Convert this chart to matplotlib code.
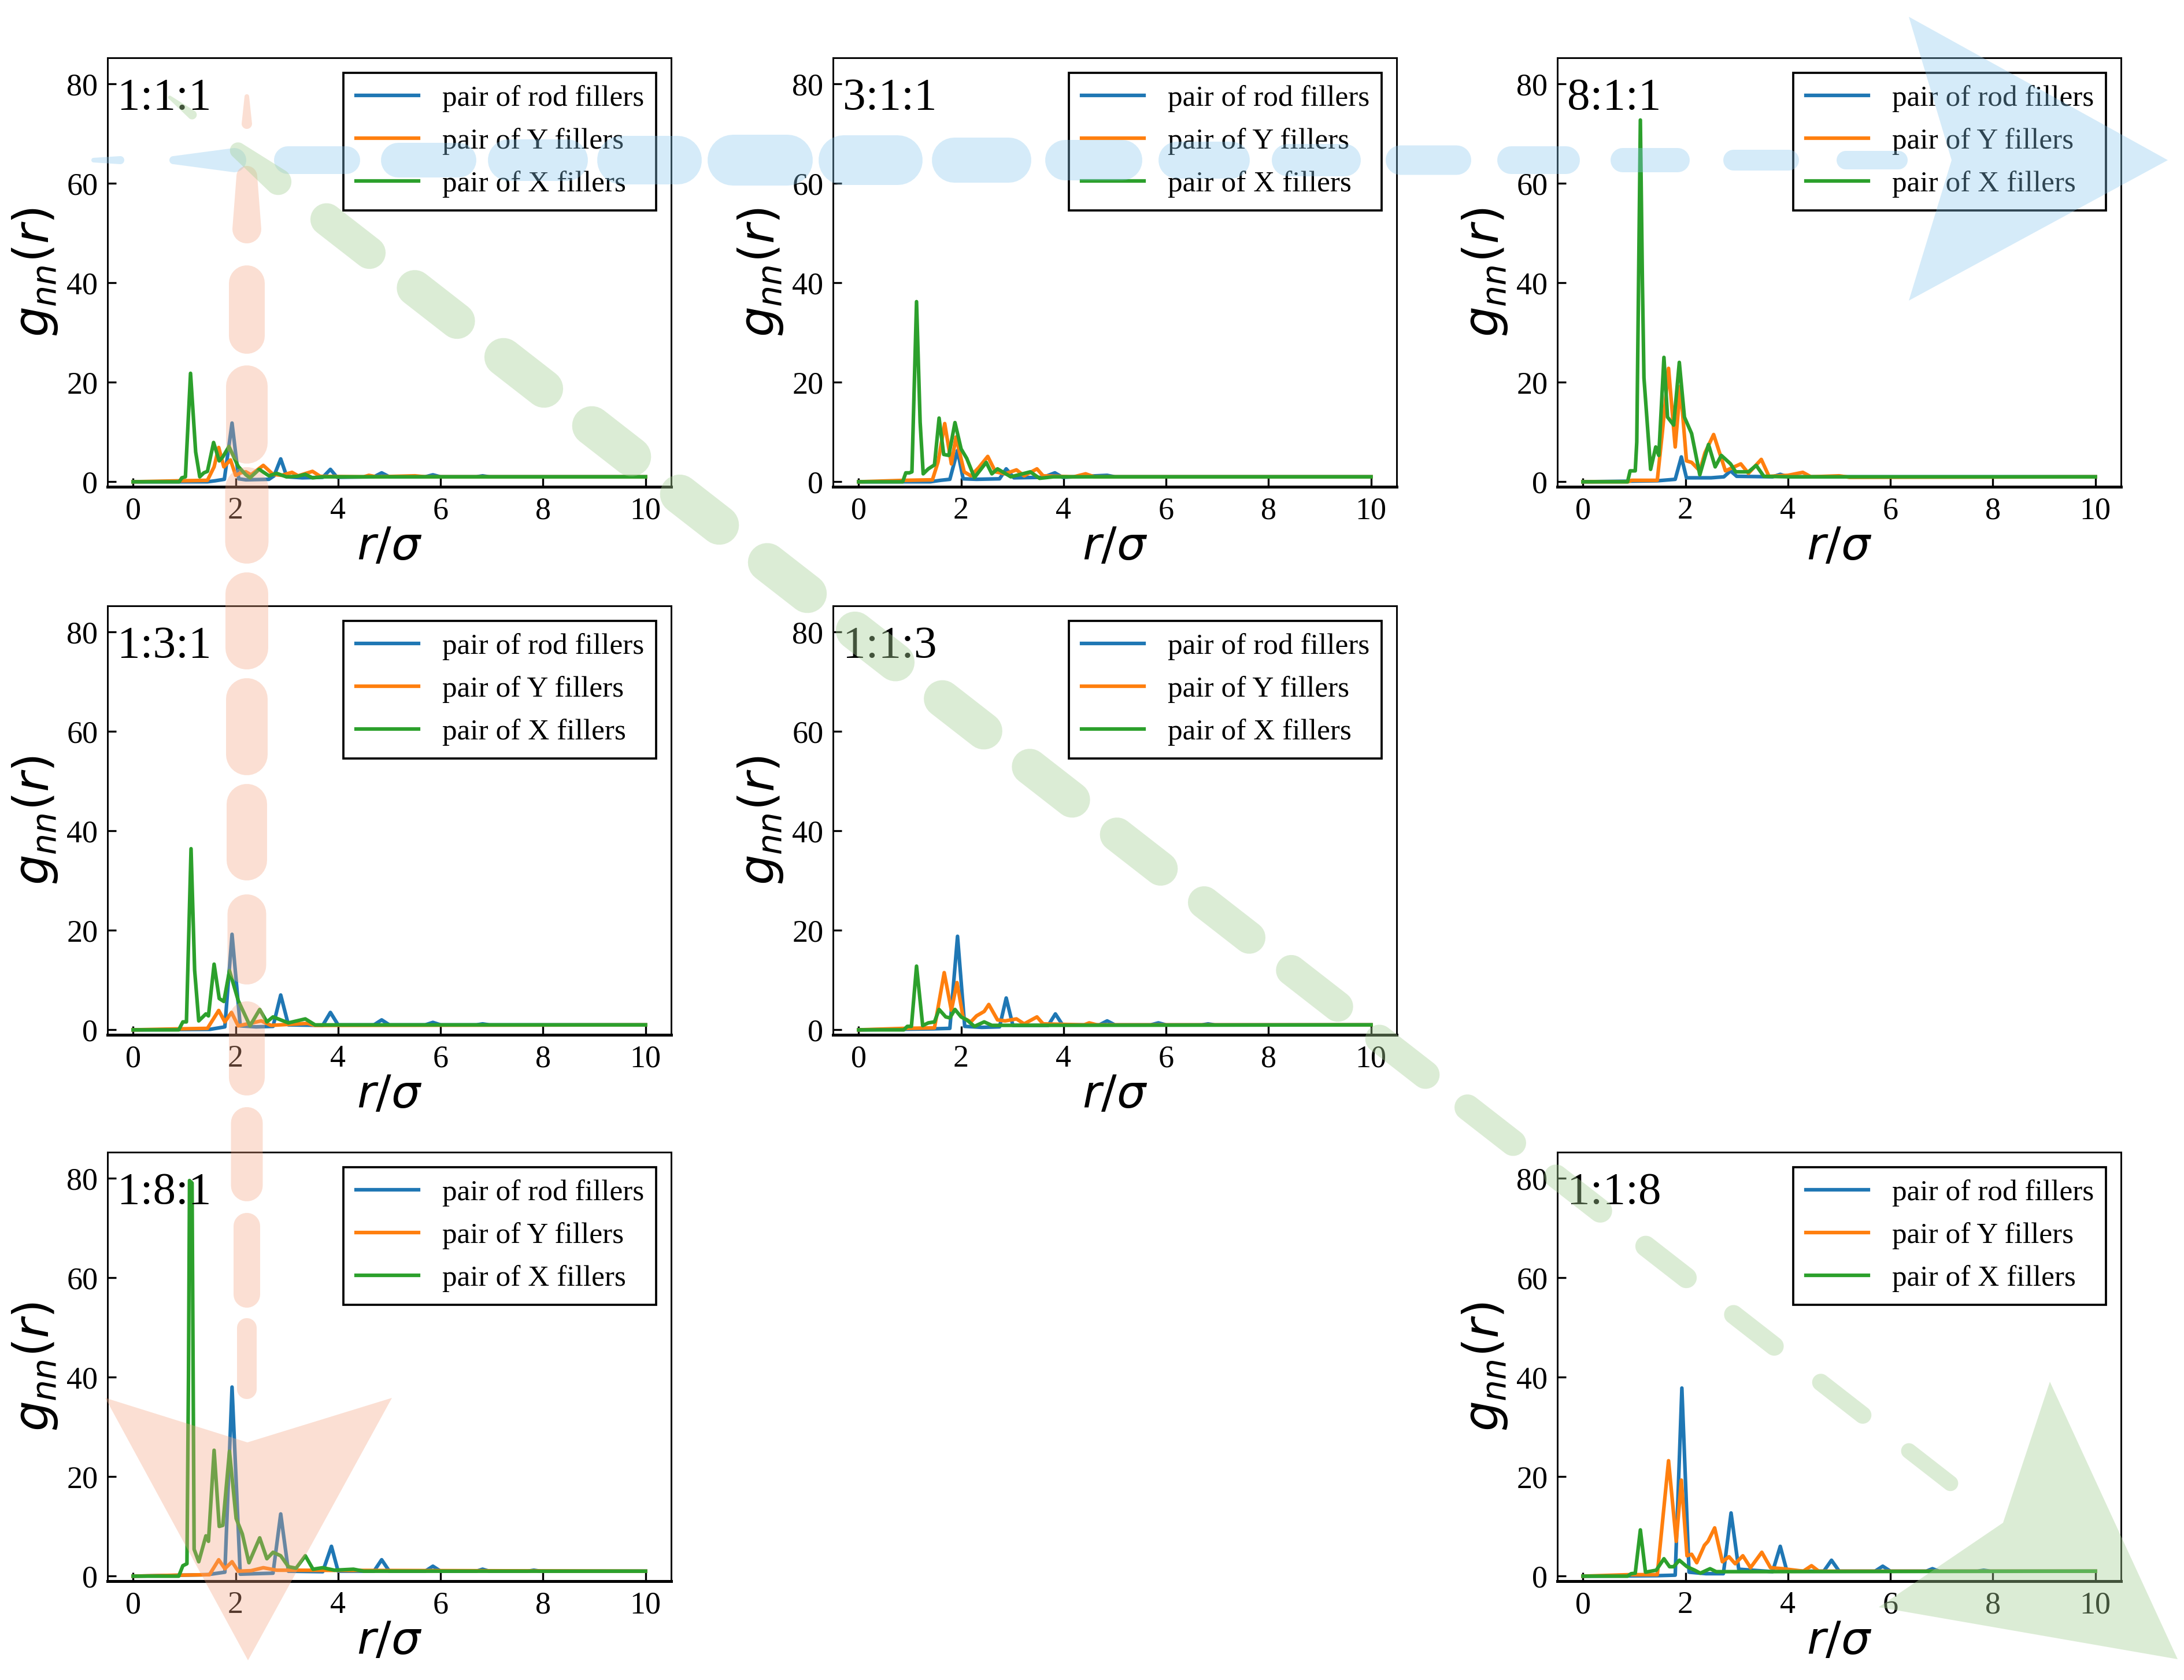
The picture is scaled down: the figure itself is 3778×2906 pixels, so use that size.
import numpy as np
import matplotlib
matplotlib.use('Agg')
import matplotlib.pyplot as plt
from matplotlib.patches import Polygon

W, H = 3779, 2906      # output size in pixels
DPI = 300

params = {'font.family': 'serif',
          'font.serif': ['Liberation Serif', 'DejaVu Serif'],
          'mathtext.fontset': 'dejavusans',
          'axes.linewidth': 0.7,
          'xtick.labelsize': 13,
          'ytick.labelsize': 13,
          'legend.fontsize': 12.3,
          }
plt.rcParams.update(params)

#################### DATA ####################################################

series_labels = ['pair of rod fillers', 'pair of Y fillers', 'pair of X fillers']
series_colors = ['#1f77b4', '#ff7f0e', '#2ca02c']

# 1:1:1
rod_111 = [(0, 0), (1.45, 0), (1.6, 0.2), (1.78, 0.5), (1.93, 11.8), (2.06, 0.6), (2.2, 0.4), (2.65, 0.5),
           (2.75, 1.2), (2.88, 4.6), (3.0, 1.0), (3.3, 0.8), (3.7, 0.9), (3.85, 2.5), (3.98, 0.9), (4.7, 1.0),
           (4.85, 1.8), (5.0, 1.0), (5.7, 1.0), (5.85, 1.4), (6.0, 1.0), (6.7, 1.0), (6.82, 1.2), (6.95, 1.0), (10, 1.0)]
y_111 = [(0, 0), (0.9, 0.2), (1.45, 0.3), (1.58, 3.0), (1.67, 6.9), (1.77, 3.0), (1.9, 4.4), (2.0, 1.3), (2.1, 1.8),
         (2.2, 2.0), (2.3, 1.4), (2.54, 3.3), (2.73, 1.5), (2.9, 1.3), (3.1, 1.9), (3.22, 1.2), (3.5, 2.1),
         (3.65, 1.1), (4.5, 1.0), (4.6, 1.3), (4.75, 1.0), (5.5, 1.2), (5.7, 1.0), (10, 1.0)]
x_111 = [(0, 0), (0.9, 0), (0.95, 0.8), (1.02, 1.0), (1.12, 21.8), (1.22, 6.0), (1.3, 1.0), (1.38, 1.8), (1.45, 2.1),
         (1.57, 7.9), (1.68, 4.2), (1.75, 5.0), (1.87, 7.1), (2.05, 3.1), (2.2, 1.4), (2.28, 0.8), (2.46, 2.5),
         (2.65, 1.2), (2.8, 1.7), (2.99, 1.0), (3.2, 1.1), (3.36, 1.5), (3.5, 0.8), (3.7, 1.0), (10, 1.0)]

# 3:1:1
rod_311 = [(0, 0), (1.4, 0), (1.6, 0.3), (1.78, 0.5), (1.93, 6.3), (2.04, 0.6), (2.3, 0.5), (2.75, 0.6), (2.88, 2.6),
           (3.03, 0.8), (3.6, 0.9), (3.83, 1.8), (3.98, 0.9), (4.85, 1.3), (5.0, 1.0), (10, 1.0)]
y_311 = [(0, 0), (0.92, 0.3), (1.44, 0.4), (1.55, 4.0), (1.68, 11.7), (1.81, 3.6), (1.9, 9.0), (2.06, 2.0),
         (2.19, 1.2), (2.34, 2.8), (2.52, 5.1), (2.67, 2.0), (2.86, 1.6), (3.08, 2.4), (3.23, 1.2), (3.48, 2.6),
         (3.6, 1.2), (4.2, 1.0), (4.43, 1.6), (4.6, 1.0), (10, 1.0)]
x_311 = [(0, 0), (0.86, 0), (0.92, 1.8), (0.99, 1.8), (1.04, 2.0), (1.13, 36.2), (1.2, 12.0), (1.26, 1.6),
         (1.36, 2.6), (1.48, 3.4), (1.57, 12.8), (1.66, 5.5), (1.76, 5.3), (1.88, 11.9), (2.0, 6.6), (2.11, 4.7),
         (2.26, 0.85), (2.49, 3.9), (2.6, 1.6), (2.71, 2.6), (2.97, 1.0), (3.35, 2.0), (3.53, 0.7), (3.8, 1.0), (10, 1.0)]

# 8:1:1
rod_811 = [(0, 0), (1.45, 0.2), (1.8, 0.5), (1.92, 5.0), (2.02, 0.8), (2.5, 0.8), (2.75, 1.0), (2.88, 2.2),
           (3.0, 1.1), (3.7, 1.0), (3.85, 1.5), (4.0, 1.0), (10, 1.0)]
y_811 = [(0, 0), (0.88, 0), (0.95, 0.3), (1.45, 0.3), (1.55, 10.0), (1.67, 22.8), (1.8, 7.0), (1.9, 19.2),
         (2.02, 4.2), (2.12, 3.9), (2.28, 2.2), (2.38, 5.8), (2.55, 9.5), (2.78, 2.2), (3.08, 3.6), (3.23, 1.7),
         (3.48, 4.5), (3.63, 1.1), (4.0, 1.3), (4.29, 1.9), (4.45, 1.0), (5.0, 1.2), (5.2, 0.9), (10, 1.0)]
x_811 = [(0, 0), (0.87, 0), (0.92, 2.2), (1.02, 2.2), (1.05, 8.0), (1.12, 72.7), (1.16, 40.0), (1.19, 20.9),
         (1.32, 2.5), (1.42, 7.0), (1.48, 5.3), (1.58, 25.0), (1.65, 13.0), (1.77, 11.4), (1.88, 24.0), (1.98, 13.0),
         (2.12, 9.7), (2.28, 1.4), (2.45, 7.5), (2.58, 3.0), (2.7, 5.3), (2.88, 3.6), (2.98, 2.0), (3.23, 2.0),
         (3.38, 3.3), (3.53, 1.1), (4.0, 1.0), (10, 1.0)]

# 1:3:1
rod_131 = [(0, 0), (1.5, 0.1), (1.79, 0.6), (1.93, 19.2), (2.09, 0.8), (2.4, 0.6), (2.73, 0.7), (2.88, 7.0),
           (3.03, 1.0), (3.7, 0.9), (3.85, 3.5), (4.0, 1.0), (4.7, 1.0), (4.85, 2.0), (5.0, 1.0), (5.7, 1.0),
           (5.85, 1.5), (6.0, 1.0), (6.7, 1.0), (6.82, 1.2), (6.95, 1.0), (10, 1.0)]
y_131 = [(0, 0), (0.9, 0.2), (1.45, 0.3), (1.67, 3.9), (1.79, 1.6), (1.92, 3.5), (2.05, 0.8), (2.5, 1.8),
         (2.69, 0.9), (3.4, 1.3), (3.55, 0.9), (10, 1.0)]
x_131 = [(0, 0), (0.89, 0), (0.97, 1.6), (1.04, 1.6), (1.13, 36.4), (1.2, 12.0), (1.28, 1.8), (1.42, 3.2),
         (1.47, 2.8), (1.58, 13.2), (1.68, 6.3), (1.77, 5.7), (1.88, 11.9), (2.05, 5.9), (2.28, 0.8), (2.47, 4.1),
         (2.61, 1.6), (2.73, 2.6), (3.03, 1.4), (3.36, 2.2), (3.55, 1.0), (10, 1.0)]

# 1:1:3
rod_113 = [(0, 0), (1.45, 0.2), (1.78, 0.3), (1.93, 18.8), (2.07, 0.7), (2.4, 0.5), (2.75, 0.6), (2.88, 6.4),
           (3.01, 0.9), (3.7, 0.9), (3.84, 3.2), (3.98, 1.0), (4.7, 1.0), (4.85, 1.8), (5.0, 1.0), (5.7, 1.0),
           (5.85, 1.4), (6.0, 1.0), (6.7, 1.0), (6.82, 1.2), (6.95, 1.0), (10, 1.0)]
y_113 = [(0, 0), (0.9, 0.3), (1.48, 0.4), (1.67, 11.5), (1.81, 3.9), (1.92, 9.5), (2.04, 2.4), (2.19, 1.6),
         (2.3, 2.8), (2.45, 3.7), (2.54, 5.1), (2.71, 2.0), (2.86, 1.8), (3.08, 2.2), (3.23, 1.2), (3.48, 2.6),
         (3.6, 1.2), (4.4, 1.0), (4.5, 1.4), (4.65, 1.0), (10, 1.0)]
x_113 = [(0, 0), (0.88, 0), (0.95, 0.7), (1.03, 0.7), (1.13, 12.8), (1.25, 0.85), (1.36, 1.4), (1.48, 1.6),
         (1.57, 4.1), (1.7, 2.6), (1.78, 2.4), (1.88, 4.1), (2.0, 2.6), (2.11, 2.0), (2.26, 0.7), (2.45, 1.6),
         (2.6, 0.9), (10, 1.0)]

# 1:8:1
rod_181 = [(0, 0), (1.45, 0.3), (1.79, 0.8), (1.93, 38.0), (2.09, 0.4), (2.4, 0.5), (2.73, 0.6), (2.88, 12.5),
           (3.03, 1.0), (3.7, 0.9), (3.87, 6.0), (4.0, 1.0), (4.7, 1.0), (4.85, 3.3), (5.0, 1.0), (5.7, 1.0),
           (5.85, 2.0), (6.0, 1.0), (6.7, 1.0), (6.82, 1.4), (6.95, 1.0), (7.7, 1.0), (7.82, 1.2), (7.95, 1.0), (10, 1.0)]
y_181 = [(0, 0), (0.9, 0.2), (1.49, 0.3), (1.67, 3.3), (1.79, 1.5), (1.93, 2.9), (2.05, 1.0), (2.3, 1.1),
         (2.54, 1.7), (2.8, 1.2), (10, 1.0)]
x_181 = [(0, 0), (0.89, 0), (0.97, 2.1), (1.05, 2.5), (1.08, 40.0), (1.1, 79.5), (1.15, 79.0), (1.19, 5.4),
         (1.28, 2.9), (1.42, 8.1), (1.47, 7.0), (1.58, 25.3), (1.68, 10.0), (1.75, 10.2), (1.88, 25.1), (2.01, 11.6),
         (2.13, 8.5), (2.26, 2.7), (2.47, 7.7), (2.61, 3.5), (2.73, 4.8), (2.88, 4.1), (3.03, 1.9), (3.18, 1.6),
         (3.36, 4.1), (3.51, 1.4), (3.7, 1.7), (3.93, 1.2), (4.3, 1.4), (4.5, 1.0), (10, 1.0)]

# 1:1:8
rod_118 = [(0, 0), (1.45, 0.1), (1.8, 0.2), (1.93, 37.8), (2.07, 0.8), (2.4, 0.5), (2.74, 0.5), (2.89, 12.7),
           (3.04, 1.4), (3.7, 0.9), (3.85, 6.0), (3.98, 1.0), (4.7, 1.0), (4.85, 3.2), (5.0, 1.0), (5.7, 1.0),
           (5.85, 2.0), (6.0, 1.0), (6.7, 1.0), (6.82, 1.5), (6.95, 1.0), (7.7, 1.0), (7.82, 1.2), (7.95, 1.0), (10, 1.0)]
y_118 = [(0, 0), (0.9, 0.3), (1.45, 0.3), (1.67, 23.2), (1.82, 7.0), (1.92, 19.3), (2.03, 4.1), (2.12, 4.4),
         (2.22, 2.7), (2.37, 6.2), (2.44, 7.0), (2.57, 9.7), (2.72, 2.9), (2.85, 3.9), (2.97, 2.5), (3.12, 4.1),
         (3.27, 1.7), (3.49, 4.8), (3.66, 1.7), (3.9, 1.5), (4.3, 1.0), (4.46, 2.1), (4.6, 1.0), (10, 1.0)]
x_118 = [(0, 0), (0.87, 0), (0.94, 0.5), (1.02, 0.6), (1.12, 9.3), (1.22, 0.8), (1.43, 1.2), (1.58, 3.5),
         (1.69, 1.9), (1.77, 1.9), (1.88, 3.2), (2.03, 1.9), (2.18, 1.2), (2.29, 0.6), (2.48, 1.5), (2.6, 0.9), (10, 1.0)]

# panel: (row, col, ratio label, rod, Y, X)
panels = [(0, 0, '1:1:1', rod_111, y_111, x_111),
          (0, 1, '3:1:1', rod_311, y_311, x_311),
          (0, 2, '8:1:1', rod_811, y_811, x_811),
          (1, 0, '1:3:1', rod_131, y_131, x_131),
          (1, 1, '1:1:3', rod_113, y_113, x_113),
          (2, 0, '1:8:1', rod_181, y_181, x_181),
          (2, 2, '1:1:8', rod_118, y_118, x_118)]

#################### PLOT specification ##############################

fig = plt.figure(figsize=(W / DPI, H / DPI), dpi=DPI)

col_left = [186, 1441, 2694]     # pixels
row_top = [100, 1048, 1993]
ax_w, ax_h = 975, 742

for row, col, ratio, rod, yf, xf in panels:
    ax = fig.add_axes([col_left[col] / W, 1 - (row_top[row] + ax_h) / H, ax_w / W, ax_h / H])
    for pts, c, lab in zip([rod, yf, xf], series_colors, series_labels):
        r = [p[0] for p in pts]
        g = [p[1] for p in pts]
        ax.plot(r, g, color=c, lw=1.5, label=lab)
    ax.set_xlim(-0.5, 10.5)
    ax.set_ylim(-1.0, 85.2)
    ax.set_xticks(np.arange(0, 11, 2))
    ax.set_yticks(np.arange(0, 81, 20))
    ax.tick_params(direction='in', length=3.5, width=0.8, pad=4, top=False, right=False)
    ax.spines['bottom'].set_linewidth(1.2)
    ax.set_xlabel(r'$r/\sigma$', fontsize=19, labelpad=1)
    ax.set_ylabel(r'$g_{nn}(r)$', fontsize=20, labelpad=3)
    ax.text(0.017, 0.88, ratio, transform=ax.transAxes, fontsize=19, va='baseline', ha='left')
    leg = ax.legend(loc='upper right', fancybox=False, edgecolor='black', framealpha=1,
                    borderpad=0.42, labelspacing=0.53, handlelength=2.1, handletextpad=0.8,
                    borderaxespad=0.5)
    leg.get_frame().set_linewidth(0.9)

#################### decorative dashed arrows (pixel geometry) ##############################

def to_fig(pts):
    return [(x / W, 1 - y / H) for x, y in pts]

def pill(x0, y0, x1, y1, w0, w1, n=18):
    L = np.hypot(x1 - x0, y1 - y0)
    ux, uy = (x1 - x0) / L, (y1 - y0) / L
    r0, r1 = w0 / 2, w1 / 2
    c0 = (x0 + ux * r0, y0 + uy * r0)
    c1 = (x1 - ux * r1, y1 - uy * r1)
    a = np.arctan2(uy, ux)
    pts = [(c1[0] + r1 * np.cos(t), c1[1] + r1 * np.sin(t)) for t in np.linspace(a - np.pi / 2, a + np.pi / 2, n)]
    pts += [(c0[0] + r0 * np.cos(t), c0[1] + r0 * np.sin(t)) for t in np.linspace(a + np.pi / 2, a + 3 * np.pi / 2, n)]
    return to_fig(pts)

def add_shape(pts, color, alpha):
    fig.add_artist(Polygon(pts, closed=True, transform=fig.transFigure, facecolor=color,
                           edgecolor='none', alpha=alpha, zorder=10))

# blue, horizontal
blue_c, blue_a = '#87c8ee', 0.35
by = 277
blue_dashes = [(158, 215, 8, 14), (293, 426, 14, 42), (474, 623, 48, 48), (659, 824, 60, 60), (844, 1017, 72, 72),
               (1033, 1214, 84, 84), (1224, 1406, 88, 88), (1416, 1596, 86, 86), (1612, 1784, 78, 78),
               (1808, 1976, 70, 70), (2004, 2162, 64, 64), (2200, 2354, 56, 56), (2397, 2545, 51, 51),
               (2590, 2733, 48, 48), (2786, 2923, 42, 42), (2981, 3112, 36, 36), (3177, 3300, 32, 32)]
for x0, x1, w0, w1 in blue_dashes:
    add_shape(pill(x0, by, x1, by, w0, w1), blue_c, blue_a)
add_shape(to_fig([(3302, 29), (3750, 277), (3302, 520), (3376, 277)]), blue_c, blue_a)

# orange, vertical
orange_c, orange_a = '#f4a582', 0.35
ox = 427
orange_dashes = [(163, 223, 8, 18), (287, 421, 36, 50), (459, 612, 62, 62), (632, 802, 72, 72),
                 (808, 975, 75, 75), (990, 1158, 74, 74), (1173, 1341, 72, 72), (1356, 1523, 70, 70),
                 (1547, 1703, 67, 67), (1732, 1895, 62, 62), (1915, 2078, 55, 55), (2098, 2262, 46, 46),
                 (2280, 2420, 34, 34)]
for y0, y1, w0, w1 in orange_dashes:
    add_shape(pill(ox, y0, ox, y1, w0, w1), orange_c, orange_a)
add_shape(to_fig([(182, 2418), (429, 2872), (678, 2418), (428, 2495)]), orange_c, orange_a)

# green, diagonal: y = 185 + k (x - 315)
green_c, green_a = '#a6d096', 0.4
k = 0.7783
ux, uy = 1 / np.hypot(1, k), k / np.hypot(1, k)
green_dashes = [(315, 60, 6, 16), (450, 125, 28, 46), (602, 150, 56, 56), (754, 155, 62, 62), (906, 155, 66, 66),
                (1058, 155, 68, 68), (1210, 155, 68, 68), (1362, 155, 67, 67), (1514, 155, 66, 66),
                (1666, 155, 64, 64), (1818, 155, 62, 62), (1970, 155, 59, 59), (2122, 155, 56, 56),
                (2274, 155, 53, 53), (2426, 150, 49, 49), (2578, 145, 45, 45), (2730, 138, 41, 41),
                (2882, 125, 36, 36), (3034, 122, 33, 33), (3186, 122, 30, 30), (3338, 118, 27, 27)]
for xc, L, w0, w1 in green_dashes:
    yc = 185 + k * (xc - 315)
    add_shape(pill(xc - ux * L / 2, yc - uy * L / 2, xc + ux * L / 2, yc + uy * L / 2, w0, w1), green_c, green_a)
add_shape(to_fig([(3546, 2390), (3767, 2870), (3250, 2780), (3465, 2634)]), green_c, green_a)

fig.savefig('out.png', dpi=DPI)
